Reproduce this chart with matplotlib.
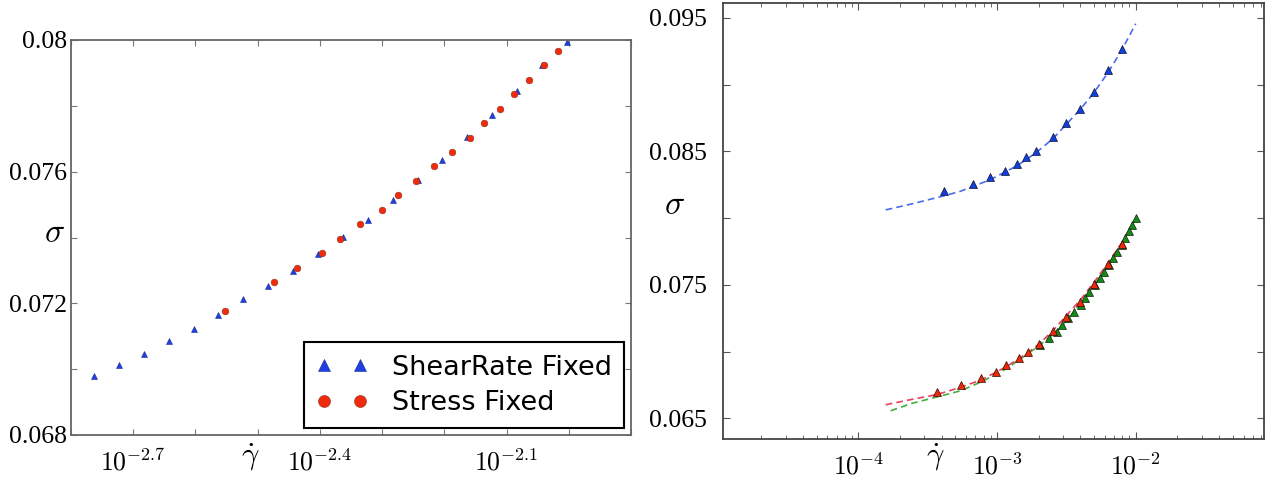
import numpy as np
import matplotlib
matplotlib.use("Agg")
import matplotlib.pyplot as plt
from matplotlib.ticker import FixedLocator, FixedFormatter, LogLocator, NullFormatter

plt.rcParams["font.family"] = ["Liberation Serif", "DejaVu Serif"]
plt.rcParams["mathtext.fontset"] = "cm"

# ---- left panel data (log10 of shear rate, sigma) ----
shear_fixed_lx = [-2.763, -2.723, -2.683, -2.643, -2.603, -2.563, -2.523, -2.483, -2.443, -2.403,
                  -2.363, -2.323, -2.283, -2.243, -2.203, -2.163, -2.123, -2.083, -2.043, -2.003]
shear_fixed_sig = [0.06980, 0.07014, 0.07045, 0.07085, 0.07121, 0.07164, 0.07212, 0.07254, 0.07299, 0.07351,
                   0.07403, 0.07453, 0.07514, 0.07574, 0.07636, 0.07705, 0.07773, 0.07844, 0.07923, 0.07995]

stress_fixed_lx = [-2.552, -2.473, -2.436, -2.397, -2.367, -2.336, -2.300, -2.274, -2.246, -2.216,
                   -2.188, -2.159, -2.137, -2.111, -2.088, -2.064, -2.040, -2.018]
stress_fixed_sig = [0.07177, 0.07264, 0.07308, 0.07352, 0.07396, 0.07440, 0.07484, 0.07528, 0.07572, 0.07616,
                    0.07660, 0.07703, 0.07748, 0.07791, 0.07836, 0.07879, 0.07923, 0.07967]

left_xtick_exp = [-2.8, -2.7, -2.6, -2.5, -2.4, -2.3, -2.2, -2.1, -2.0, -1.9]
left_xtick_lab = ["", r"$10^{-2.7}$", "", "", r"$10^{-2.4}$", "", "", r"$10^{-2.1}$", "", ""]
left_yticks = [0.068, 0.070, 0.072, 0.074, 0.076, 0.078, 0.080]
left_ytick_lab = ["0.068", "", "0.072", "", "0.076", "", "0.08"]

# ---- right panel data ----
blue_lx = [-3.382, -3.171, -3.050, -2.940, -2.854, -2.793, -2.717, -2.596, -2.503, -2.399, -2.298, -2.198, -2.097]
blue_sig = [0.08207, 0.08257, 0.08305, 0.08355, 0.08405, 0.08455, 0.08505, 0.08608, 0.08713, 0.08820,
            0.08947, 0.09110, 0.09268]
blue_fit_lx = [-3.802, -3.613, -3.383, -3.267, -3.051, -2.856, -2.719, -2.597, -2.503, -2.402, -2.301, -2.200, -2.099, -2.0]
blue_fit_sig = [0.08062, 0.08107, 0.08167, 0.08200, 0.08287, 0.08392, 0.08490, 0.08595, 0.08700, 0.08812,
                0.08940, 0.09090, 0.09262, 0.09457]

red_lx = [-3.430, -3.260, -3.115, -3.009, -2.935, -2.839, -2.779, -2.697, -2.598, -2.499, -2.400, -2.299, -2.198, -2.097]
red_sig = [0.0670, 0.0675, 0.0680, 0.0685, 0.0690, 0.0695, 0.0700, 0.07055, 0.07155, 0.07258,
           0.07372, 0.07505, 0.07655, 0.07805]
red_fit_lx = [-3.802, -3.613, -3.433, -3.267, -3.115, -2.935, -2.779, -2.697, -2.596, -2.503, -2.402, -2.301, -2.200, -2.099, -2.0]
red_fit_sig = [0.06602, 0.06642, 0.06678, 0.06731, 0.06787, 0.06885, 0.06990, 0.07057, 0.07158, 0.07267,
               0.07383, 0.07518, 0.07665, 0.07818, 0.07995]

green_lx = [-1.998, -2.025, -2.051, -2.075, -2.102, -2.133, -2.162, -2.195, -2.226, -2.257,
            -2.293, -2.335, -2.362, -2.397, -2.443, -2.485, -2.529, -2.570, -2.627, -2.690]
green_sig = [0.0800, 0.0795, 0.0790, 0.0785, 0.0780, 0.0775, 0.0770, 0.0765, 0.0760, 0.0755,
             0.0750, 0.0745, 0.0740, 0.0735, 0.0730, 0.0725, 0.0720, 0.0715, 0.0710, 0.0705]
green_fit_lx = [-3.766, -3.613, -3.433, -3.267, -3.115, -2.935, -2.779, -2.690, -2.570, -2.443, -2.335, -2.226, -2.133, -2.050, -1.998]
green_fit_sig = [0.06557, 0.06612, 0.06660, 0.06705, 0.06772, 0.06870, 0.06982, 0.0705, 0.0715, 0.0730,
                 0.0745, 0.0760, 0.0775, 0.0790, 0.0800]

right_yticks = [0.065, 0.070, 0.075, 0.080, 0.085, 0.090, 0.095]
right_ytick_lab = ["0.065", "", "0.075", "", "0.085", "", "0.095"]
right_xticks = [1e-4, 1e-3, 1e-2]
right_xtick_lab = [r"$10^{-4}$", r"$10^{-3}$", r"$10^{-2}$"]

fig = plt.figure(figsize=(12.83, 4.79), dpi=100)
ax1 = fig.add_axes([71 / 1283, 44 / 479, 560 / 1283, 395 / 479])
ax2 = fig.add_axes([723.3 / 1283, 40 / 479, 540.7 / 1283, 435.7 / 479])

# left panel
ax1.plot(10 ** np.array(shear_fixed_lx), shear_fixed_sig, "^", color="#1f3fe0", ms=4.8,
         mec="#1a2a90", mew=0.4, label="ShearRate Fixed")
ax1.plot(10 ** np.array(stress_fixed_lx), stress_fixed_sig, "o", color="#f02a0a", ms=4.8,
         mec="#903020", mew=0.4, label="Stress Fixed")
ax1.set_xscale("log")
ax1.set_xlim(10 ** -2.8, 10 ** -1.9)
ax1.set_ylim(0.068, 0.080)
ax1.xaxis.set_major_locator(FixedLocator(10 ** np.array(left_xtick_exp)))
ax1.xaxis.set_major_formatter(FixedFormatter(left_xtick_lab))
ax1.xaxis.set_minor_locator(FixedLocator([]))
ax1.yaxis.set_major_locator(FixedLocator(left_yticks))
ax1.yaxis.set_major_formatter(FixedFormatter(left_ytick_lab))
ax1.tick_params(axis="both", which="both", direction="in", top=True, right=True,
                length=4, width=0.8, color="#777777", labelsize=18.5)
ax1.tick_params(axis="x", pad=10)
ax1.tick_params(axis="y", pad=3)
for s in ax1.spines.values():
    s.set_color("#666666")
    s.set_linewidth(1.3)
leg = ax1.legend(loc="lower right", numpoints=2, markerscale=1.8, handlelength=1.9,
                 handletextpad=0.9, borderpad=0.45, labelspacing=0.35, borderaxespad=0.25,
                 fancybox=False, framealpha=1,
                 prop={"family": "DejaVu Sans", "size": 19.5})
leg.get_frame().set_edgecolor("black")
leg.get_frame().set_linewidth(1.5)
ax1.text(-0.029, 0.509, r"$\sigma$", transform=ax1.transAxes, ha="center", va="center", fontsize=24)
ax1.text(0.32, -0.057, r"$\dot{\gamma}$", transform=ax1.transAxes, ha="center", va="center", fontsize=22)

# right panel
dash = (0, (4, 2.5))
ax2.plot(10 ** np.array(blue_fit_lx), blue_fit_sig, linestyle=dash, color="#4a6af0", lw=1.2)
ax2.plot(10 ** np.array(green_fit_lx), green_fit_sig, linestyle=dash, color="#40b040", lw=1.2)
ax2.plot(10 ** np.array(red_fit_lx), red_fit_sig, linestyle=dash, color="#e8405a", lw=1.2)
ax2.plot(10 ** np.array(blue_lx), blue_sig, "^", color="#1040e0", ms=6, mec="#101030", mew=0.5)
ax2.plot(10 ** np.array(green_lx), green_sig, "^", color="#168a16", ms=6, mec="#102010", mew=0.5)
ax2.plot(10 ** np.array(red_lx), red_sig, "^", color="#ec2a08", ms=6, mec="#300a05", mew=0.5)
ax2.set_xscale("log")
ax2.set_xlim(10 ** -4.973, 10 ** -1.075)
ax2.set_ylim(0.06345, 0.0961)
ax2.xaxis.set_major_locator(FixedLocator(right_xticks))
ax2.xaxis.set_major_formatter(FixedFormatter(right_xtick_lab))
ax2.xaxis.set_minor_locator(LogLocator(base=10, subs=range(2, 10)))
ax2.xaxis.set_minor_formatter(NullFormatter())
ax2.yaxis.set_major_locator(FixedLocator(right_yticks))
ax2.yaxis.set_major_formatter(FixedFormatter(right_ytick_lab))
ax2.tick_params(axis="both", which="major", direction="in", top=True, right=True,
                length=5, width=0.8, color="#555555", labelsize=18.5)
ax2.tick_params(axis="x", which="minor", direction="in", top=True, bottom=True,
                length=3, width=0.6, color="#555555")
ax2.tick_params(axis="x", pad=10)
ax2.tick_params(axis="y", pad=12)
for s in ax2.spines.values():
    s.set_color("#444444")
    s.set_linewidth(1.3)
ax2.text(-0.09, 0.535, r"$\sigma$", transform=ax2.transAxes, ha="center", va="center", fontsize=24)
ax2.text(0.3915, -0.042, r"$\dot{\gamma}$", transform=ax2.transAxes, ha="center", va="center", fontsize=22)

plt.savefig("out.png", dpi=100)
